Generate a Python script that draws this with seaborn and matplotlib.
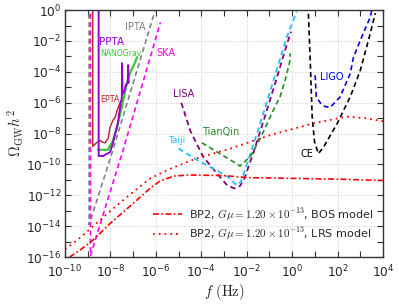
import numpy as np
import matplotlib
matplotlib.use("Agg")
import matplotlib.pyplot as plt
import seaborn as sns
from matplotlib.font_manager import FontProperties
from matplotlib.ticker import FixedLocator, NullFormatter

# all values are log10(f / Hz) and log10(Omega_GW h^2)
ipta_f = [-8.94, -8.94, -7.9, -6.05]
ipta_o = [0.3, -13.9, -9.1, -0.1]

ska_f = [-8.88, -8.88, -7.45, -5.8]
ska_o = [0.3, -15.9, -9.1, -0.8]

epta_f = [-8.78, -8.78, -8.62, -8.46, -8.35, -8.24, -8.1, -8.02, -7.89, -7.78, -7.71, -7.58]
epta_o = [0.3, -8.83, -8.6, -8.44, -8.55, -8.6, -8.31, -7.6, -7.14, -6.9, -6.5, -6.0]

ppta_f = [-8.52, -8.52, -8.33, -8.02, -7.89, -7.67, -7.55, -7.5, -7.49, -7.47, -7.4, -7.33, -7.24, -7.22, -7.2]
ppta_o = [0.3, -9.45, -9.45, -9.2, -8.6, -7.3, -6.0, -5.7, -3.44, -5.4, -5.3, -4.9, -4.7, -3.57, -4.7]

nano_f = [-8.55, -8.12, -7.9, -7.7, -7.5, -7.35, -7.2, -7.05, -6.92, -6.83]
nano_o = [-9.05, -9.05, -8.5, -7.5, -6.3, -5.2, -4.3, -3.8, -3.4, -3.05]

lisa_f = [-4.88, -4.49, -3.92, -3.3, -2.86, -2.55, -2.3, -2.1, -1.7, -1.2, -0.7, -0.22, -0.05]
lisa_o = [-6.0, -7.8, -9.5, -10.6, -11.35, -11.55, -11.4, -10.9, -9.2, -6.9, -4.5, -2.15, -1.4]

taiji_f = [-5.0, -4.2, -3.3, -2.73, -2.45, -2.25, -1.75, -1.25, -0.75, -0.25, 0.2]
taiji_o = [-8.96, -9.7, -10.4, -10.9, -11.35, -11.1, -8.9, -6.6, -4.2, -1.8, -0.1]

tianqin_f = [-3.97, -3.3, -2.73, -2.3, -1.85, -1.4, -0.9, -0.53, -0.31, -0.1, -0.09]
tianqin_o = [-8.6, -9.2, -9.7, -10.1, -9.5, -8.3, -6.7, -5.6, -4.55, -3.3, -2.8]

ce_f = [0.7, 0.8, 0.88, 0.98, 1.15, 1.37, 1.98, 2.56, 3.0, 3.44, 3.66]
ce_o = [0.3, -3.5, -6.9, -8.5, -9.3, -8.9, -7.35, -5.6, -3.9, -1.5, -0.2]

ligo_f = [1.01, 1.06, 1.23, 1.45, 1.67, 2.1, 2.56, 2.69, 3.0, 3.44, 3.52]
ligo_o = [-4.22, -5.6, -6.0, -6.25, -6.3, -5.65, -4.1, -3.1, -1.95, -0.45, 0.1]

bos_f = [-9.8, -9.3, -8.77, -8.0, -7.1, -6.26, -5.8, -5.2, -4.5, -3.0, -2.0, 0.0, 2.0, 4.0]
bos_o = [-16.0, -15.5, -14.9, -13.8, -12.65, -11.55, -11.05, -10.75, -10.68, -10.72, -10.85, -10.9, -10.95, -11.04]

lrs_f = [-10.0, -9.3, -8.77, -8.0, -7.1, -6.25, -5.4, -4.2, -2.7, -0.97, 0.9, 2.4, 3.2, 4.0]
lrs_o = [-15.5, -14.7, -14.0, -13.0, -11.9, -10.9, -10.3, -9.6, -8.96, -8.1, -7.35, -6.9, -7.0, -7.2]

gmu_label = r"$G\mu = 1.20\times10^{-13}$"

sns.set_style("ticks")
plt.rcParams['font.family'] = ['DejaVu Sans']

fig, ax = plt.subplots(figsize=(3.99, 3.05), dpi=100)
fig.subplots_adjust(left=0.163, right=0.96, bottom=0.157, top=0.967)

dash = (0, (3, 2))
curves = [
    (ipta_f, ipta_o, "#808080", dash, 1.2),
    (ska_f, ska_o, "#ff00ff", dash, 1.2),
    (epta_f, epta_o, "#b22222", "-", 1.0),
    (nano_f, nano_o, "#33cc33", "-", 1.6),
    (ppta_f, ppta_o, "#9400d3", "-", 1.4),
    (lisa_f, lisa_o, "#800080", dash, 1.3),
    (taiji_f, taiji_o, "#22c0ff", dash, 1.3),
    (tianqin_f, tianqin_o, "#228b22", dash, 1.2),
    (ce_f, ce_o, "black", dash, 1.2),
    (ligo_f, ligo_o, "#0000ff", dash, 1.2),
]
for f, o, c, ls, lw in curves:
    sns.lineplot(x=10.0 ** np.array(f), y=10.0 ** np.array(o), sort=False,
                 estimator=None, color=c, linestyle=ls, lw=lw, ax=ax)

sns.lineplot(x=10.0 ** np.array(bos_f), y=10.0 ** np.array(bos_o), sort=False,
             estimator=None, color="red", linestyle=(0, (3.5, 1.5, 1, 1.5)), lw=1.2,
             ax=ax, label="BP2, " + gmu_label + ", BOS model")
sns.lineplot(x=10.0 ** np.array(lrs_f), y=10.0 ** np.array(lrs_o), sort=False,
             estimator=None, color="red", linestyle=(0, (1, 2.2)), lw=1.3,
             ax=ax, label="BP2, " + gmu_label + ", LRS model")

ax.set_xscale("log")
ax.set_yscale("log")
ax.set_xlim(1e-10, 1e4)
ax.set_ylim(1e-16, 1e0)

ax.xaxis.set_major_locator(FixedLocator(10.0 ** np.arange(-10, 5, 2)))
ax.xaxis.set_minor_locator(FixedLocator(10.0 ** np.arange(-9, 4, 2)))
ax.xaxis.set_minor_formatter(NullFormatter())
ax.yaxis.set_major_locator(FixedLocator(10.0 ** np.arange(-16, 1, 2)))
ax.yaxis.set_minor_locator(FixedLocator(10.0 ** np.arange(-15, 0, 2)))
ax.yaxis.set_minor_formatter(NullFormatter())

ax.tick_params(which="both", direction="in", top=True, right=True, length=4,
               width=0.8, labelsize=8.8, color="#333333")
ax.tick_params(axis="x", pad=5)
ax.tick_params(axis="y", pad=2.5)
ax.grid(which="major", linestyle=":", color="#cccccc", lw=0.7)
for sp in ax.spines.values():
    sp.set_color("#333333")
    sp.set_linewidth(1.0)

# curve labels
labels = [
    ("IPTA", -6.9, -1.1, "#808080", 7, "normal"),
    ("PPTA", -7.93, -2.07, "#9400d3", 7.5, "normal"),
    ("NANOGrav", -7.53, -2.8, "#33cc33", 5.6, "normal"),
    ("SKA", -5.55, -2.8, "#ff00ff", 7, "normal"),
    ("EPTA", -8.02, -5.8, "#b22222", 5.8, "normal"),
    ("LISA", -4.76, -5.45, "#800080", 7, "normal"),
    ("Taiji", -5.1, -8.44, "#22c0ff", 6.5, "normal"),
    ("TianQin", -3.13, -7.9, "#228b22", 7, "normal"),
    ("LIGO", 1.72, -4.35, "#0000ff", 7, "normal"),
    ("CE", 0.66, -9.3, "black", 7, "normal"),
]
for txt, lx, ly, c, fs, fw in labels:
    ax.text(10.0 ** lx, 10.0 ** ly, txt, color=c, fontsize=fs, fontweight=fw,
            ha="center", va="center")

ax.set_xlabel(r"$f\ (\mathrm{Hz})$", fontsize=10.5, math_fontfamily="cm", labelpad=1)
ax.set_ylabel(r"$\Omega_{\rm GW}h^2$", fontsize=10.5, math_fontfamily="cm", labelpad=0)

ax.legend(loc="lower right", bbox_to_anchor=(1.0, 0.02), frameon=False,
          prop=FontProperties(size=8, math_fontfamily="cm"), handlelength=2.6,
          handletextpad=0.6, labelspacing=0.25)

fig.savefig("out.png", dpi=100)
